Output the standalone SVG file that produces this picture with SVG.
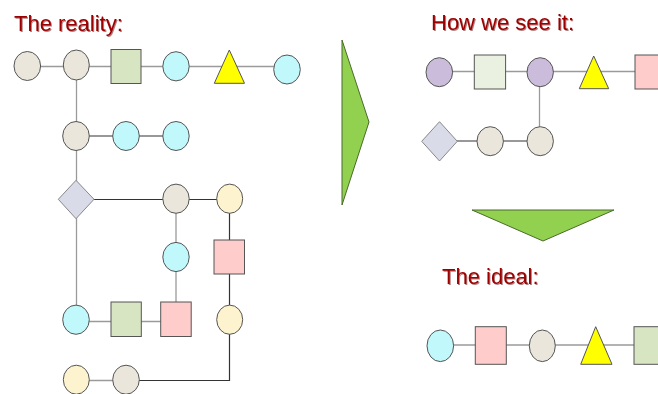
<svg xmlns="http://www.w3.org/2000/svg" width="658" height="394" viewBox="0 0 658 394">
  <defs>
    <filter id="txtshadow" x="-5%" y="-20%" width="110%" height="140%">
      <feDropShadow dx="1" dy="1" stdDeviation="0.3" flood-color="#600000" flood-opacity="0.5"/>
    </filter>
  </defs>
  <style>
    .title { font-family: "Liberation Sans", Arial, sans-serif; font-size: 22px; fill: #9c0000; filter: url(#txtshadow); }
    .node { stroke: #555; stroke-width: 1; }
    .beige { fill: #eae6dc; }
    .cyan { fill: #c0f8fc; }
    .green { fill: #d7e5c3; }
    .lgreen { fill: #ebf1e0; }
    .pink { fill: #ffcccc; }
    .yellow { fill: #ffff00; }
    .cream { fill: #fdf4cf; }
    .lav { fill: #dadbe8; stroke: #888; }
    .purple { fill: #cbbcdc; }
    .gray { stroke: #9a9a9a; stroke-width: 1.3; fill: none; }
    .dark { stroke: #333; stroke-width: 1.2; fill: none; }
    .arrow { fill: #92d050; stroke: #4a6a2a; stroke-width: 1; }
  </style>

  <!-- headings -->
  <text class="title" x="14" y="31">The reality:</text>
  <text class="title" x="431" y="30">How we see it:</text>
  <text class="title" x="442" y="284">The ideal:</text>

  <!-- big green arrows -->
  <polygon id="arrow-right" class="arrow" points="342,40 369,122 342,205"/>
  <polygon id="arrow-down" class="arrow" points="472,210 614,210 543,241"/>

  <!-- connectors -->
  <g id="connectors">
    <!-- reality: top row -->
    <line class="gray" x1="27" y1="66.5" x2="287" y2="66.5"/>
    <line class="gray" x1="76.5" y1="66" x2="76.5" y2="136"/>
    <line class="dark" x1="76" y1="136" x2="176" y2="136"/>
    <line class="gray" x1="76.5" y1="136" x2="76.5" y2="320"/>
    <line class="dark" x1="76" y1="199.5" x2="230" y2="199.5"/>
    <line class="gray" x1="176" y1="199" x2="176" y2="319"/>
    <line class="dark" x1="229.5" y1="199" x2="229.5" y2="320"/>
    <line class="gray" x1="76" y1="321.5" x2="176" y2="321.5"/>
    <polyline class="dark" points="229.5,320 229.5,380.5 126,380.5"/>
    <line class="gray" x1="76" y1="380.5" x2="126" y2="380.5"/>
    <!-- seen -->
    <line class="gray" x1="439" y1="71.5" x2="658" y2="71.5"/>
    <line class="gray" x1="539.5" y1="72" x2="539.5" y2="141"/>
    <line class="dark" x1="439" y1="141" x2="540" y2="141"/>
    <!-- ideal -->
    <line class="gray" x1="440" y1="345" x2="658" y2="345"/>
  </g>

  <!-- reality nodes -->
  <g id="r1"><ellipse class="node beige" cx="27.3" cy="66" rx="13.3" ry="14.5"/></g>
  <g id="r2"><ellipse class="node beige" cx="76.3" cy="65" rx="13" ry="15"/></g>
  <g id="r3"><rect class="node green" x="111" y="49.5" width="30" height="34"/></g>
  <g id="r4"><ellipse class="node cyan" cx="176" cy="66.3" rx="13.2" ry="14.6"/></g>
  <g id="r5"><polygon class="node yellow" points="229.3,50 244.5,83.3 214.3,83.3"/></g>
  <g id="r6"><ellipse class="node cyan" cx="287" cy="69.5" rx="13.3" ry="14.5"/></g>
  <g id="r7"><ellipse class="node beige" cx="76" cy="136" rx="13.3" ry="14.5"/></g>
  <g id="r8"><ellipse class="node cyan" cx="126" cy="136" rx="13.3" ry="14.5"/></g>
  <g id="r9"><ellipse class="node cyan" cx="176" cy="136" rx="13.2" ry="14.5"/></g>
  <g id="r10"><polygon class="node lav" points="76,180.3 94,199.3 76,218.7 58.3,199.3"/></g>
  <g id="r11"><ellipse class="node beige" cx="176" cy="198.7" rx="13.2" ry="14.6"/></g>
  <g id="r12"><ellipse class="node cream" cx="229.7" cy="198.7" rx="13" ry="14.6"/></g>
  <g id="r13"><ellipse class="node cyan" cx="176" cy="257" rx="13.2" ry="14.6"/></g>
  <g id="r14"><rect class="node pink" x="214" y="240" width="30.5" height="34"/></g>
  <g id="r15"><ellipse class="node cyan" cx="76" cy="319.7" rx="13.3" ry="14.6"/></g>
  <g id="r16"><rect class="node green" x="111" y="302" width="30.3" height="34.5"/></g>
  <g id="r17"><rect class="node pink" x="160.7" y="302" width="30.5" height="34.5"/></g>
  <g id="r18"><ellipse class="node cream" cx="229.7" cy="319.7" rx="13" ry="14.6"/></g>
  <g id="r19"><ellipse class="node cream" cx="76.3" cy="379.7" rx="13" ry="14.5"/></g>
  <g id="r20"><ellipse class="node beige" cx="126" cy="379.7" rx="13.3" ry="14.5"/></g>

  <!-- perceived nodes -->
  <g id="s1"><ellipse class="node purple" cx="439.3" cy="72.2" rx="13.3" ry="14.5"/></g>
  <g id="s2"><rect class="node lgreen" x="474.3" y="55" width="31.3" height="34"/></g>
  <g id="s3"><ellipse class="node purple" cx="540.2" cy="72.2" rx="13.2" ry="14.5"/></g>
  <g id="s4"><polygon class="node yellow" points="593.7,56 608.7,88.7 579.3,88.7"/></g>
  <g id="s5"><rect class="node pink" x="635" y="55" width="30" height="34"/></g>
  <g id="s6"><polygon class="node lav" points="439.5,121.7 457.3,141.3 439.5,161 421.7,141.3"/></g>
  <g id="s7"><ellipse class="node beige" cx="490.2" cy="141.2" rx="13.2" ry="14.5"/></g>
  <g id="s8"><ellipse class="node beige" cx="540.2" cy="141.2" rx="13.2" ry="14.5"/></g>

  <!-- ideal nodes -->
  <g id="i1"><ellipse class="node cyan" cx="440.3" cy="345.8" rx="13.3" ry="15.8"/></g>
  <g id="i2"><rect class="node pink" x="475.3" y="326.7" width="31" height="37.6"/></g>
  <g id="i3"><ellipse class="node beige" cx="542.3" cy="345.8" rx="13" ry="15.8"/></g>
  <g id="i4"><polygon class="node yellow" points="595.7,326.7 612,364.3 580.7,364.3"/></g>
  <g id="i5"><rect class="node green" x="634" y="326.7" width="31" height="37.6"/></g>
</svg>
